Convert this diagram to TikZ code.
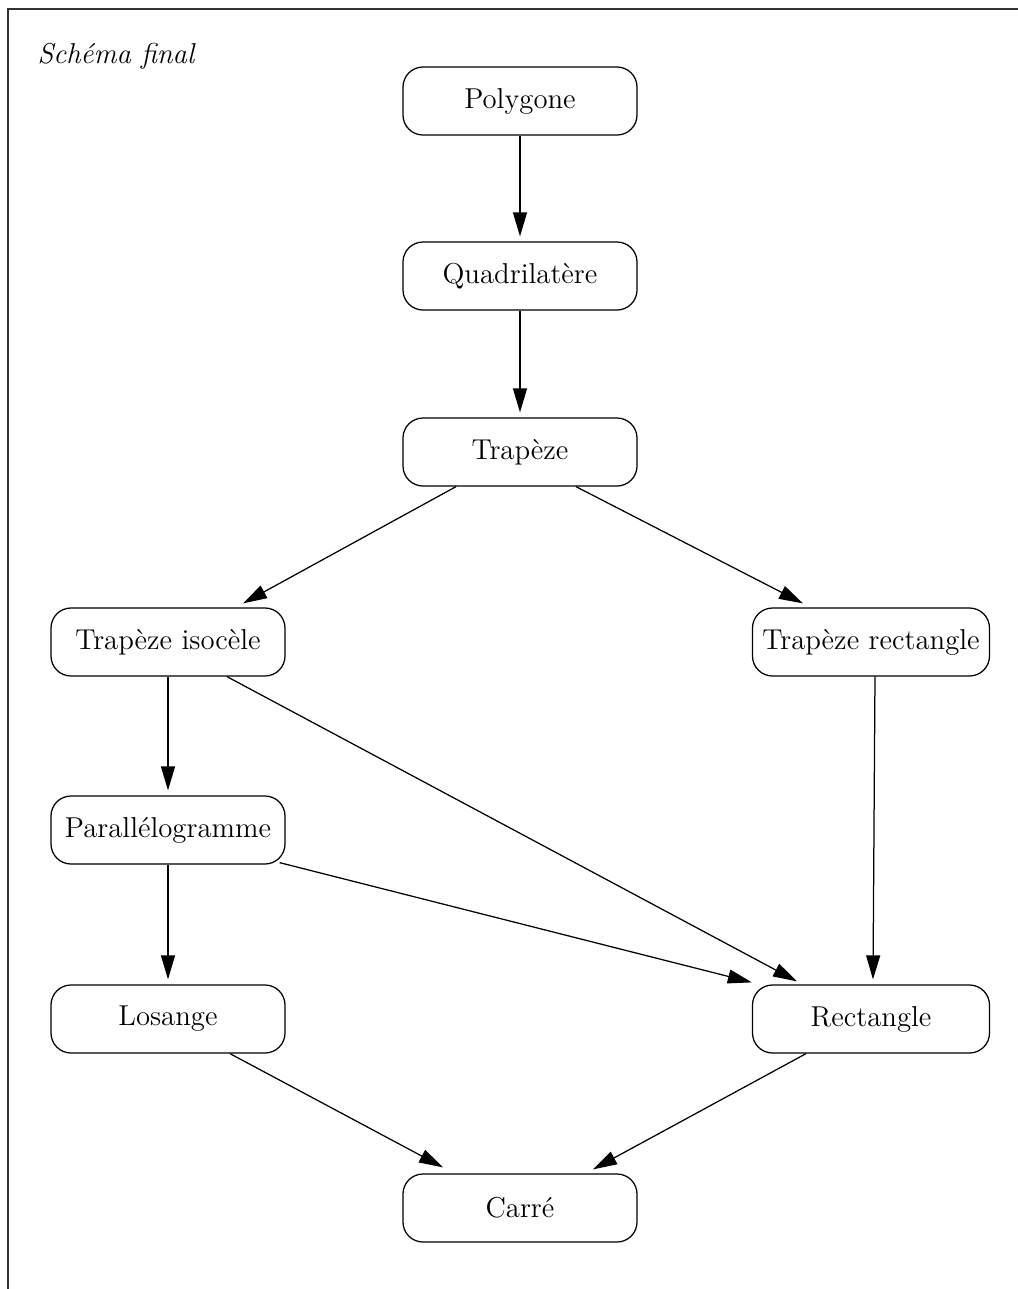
\documentclass[tikz,border=0pt]{standalone}
\usetikzlibrary{arrows.meta,calc}

\begin{document}
\begin{tikzpicture}[x=0.4pt,y=-0.4pt,
  box/.style={draw, rectangle, rounded corners=8pt, line width=0.5pt,
    minimum width=93.6pt, minimum height=27.2pt, inner sep=2pt,
    font=\fontsize{11.5}{13}\selectfont},
  arr/.style={line width=0.5pt, -{Triangle[length=9.6pt,width=5.6pt]}}]

% page extent and open frame (top and left sides only)
\useasboundingbox (0,0) rectangle (1018,1289);
\draw[line width=0.8pt, black!80] (1018,9) -- (8,9) -- (8,1289);

\node[anchor=base west, inner sep=0pt, font=\fontsize{11.5}{13}\selectfont\itshape] (title) at (37,63) {Schéma final};

% nodes
\node[box] (poly)  at (520,101)  {Polygone};
\node[box] (quad)  at (520,276)  {Quadrilatère};
\node[box] (trap)  at (520,452)  {Trapèze};
\node[box] (iso)   at (168,642)  {Trapèze isocèle};
\node[box, minimum width=94.8pt] (trect) at (871,642) {Trapèze rectangle};
\node[box] (para)  at (168,830)  {Parallélogramme};
\node[box] (los)   at (168,1019) {Losange};
\node[box, minimum width=94.8pt] (rect)  at (871,1019) {Rectangle};
\node[box] (carre) at (520,1208) {Carré};

% connectors
\draw[arr] (poly.south) -- ($(quad.north)+(0,-5)$);
\draw[arr] (quad.south) -- ($(trap.north)+(0,-5)$);
\draw[arr] ($(trap.south)+(-64,0)$) -- ($(iso.north)+(75,-4)$);
\draw[arr] ($(trap.south)+(56,0)$) -- ($(trect.north)+(-68,-4)$);
\draw[arr] (iso.south) -- ($(para.north)+(0,-5)$);
\draw[arr] ($(iso.south)+(59,0)$) -- ($(rect.north)+(-74,-3)$);
\draw[arr] ($(trect.south)+(4,0)$) -- ($(rect.north)+(2,-5)$);
\draw[arr] ($(para.south east)+(-6,-2)$) -- ($(rect.north west)+(0,-2)$);
\draw[arr] (para.south) -- ($(los.north)+(0,-5)$);
\draw[arr] ($(los.south)+(62,0)$) -- ($(carre.north)+(-77,-6)$);
\draw[arr] ($(rect.south)+(-65,0)$) -- ($(carre.north)+(73,-4)$);
\end{tikzpicture}
\end{document}
